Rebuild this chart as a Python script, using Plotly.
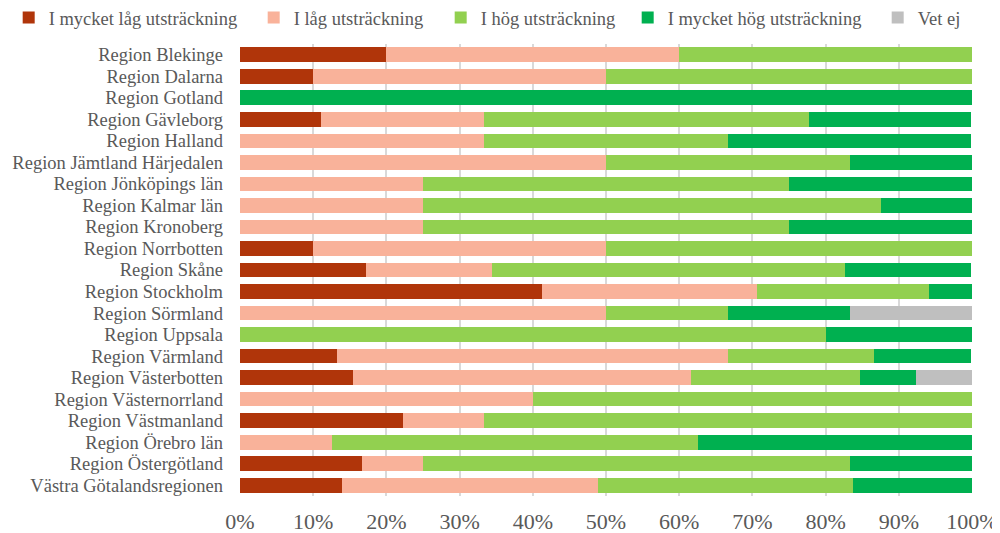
import plotly.graph_objects as go

regions = ["Region Blekinge", "Region Dalarna", "Region Gotland", "Region Gävleborg", "Region Halland",
           "Region Jämtland Härjedalen", "Region Jönköpings län", "Region Kalmar län", "Region Kronoberg",
           "Region Norrbotten", "Region Skåne", "Region Stockholm", "Region Sörmland", "Region Uppsala",
           "Region Värmland", "Region Västerbotten", "Region Västernorrland", "Region Västmanland",
           "Region Örebro län", "Region Östergötland", "Västra Götalandsregionen"]

series_names = ["I mycket låg utsträckning", "I låg utsträckning", "I hög utsträckning",
                "I mycket hög utsträckning", "Vet ej"]

mycket_lag = [20.0, 10.0, 0, 11.1, 0, 0, 0, 0, 0, 10.0, 17.2, 41.2, 0, 0, 13.3, 15.4, 0, 22.2, 0, 16.7, 14.0]
lag = [40.0, 40.0, 0, 22.2, 33.3, 50.0, 25.0, 25.0, 25.0, 40.0, 17.2, 29.4, 50.0, 0, 53.3, 46.2, 40.0, 11.1, 12.5, 8.3, 34.9]
hog = [40.0, 50.0, 0, 44.4, 33.3, 33.3, 50.0, 62.5, 50.0, 50.0, 48.3, 23.5, 16.7, 80.0, 20.0, 23.1, 60.0, 66.7, 50.0, 58.3, 34.9]
mycket_hog = [0, 0, 100.0, 22.2, 33.3, 16.7, 25.0, 12.5, 25.0, 0, 17.2, 5.9, 16.7, 20.0, 13.3, 7.7, 0, 0, 37.5, 16.7, 16.3]
vet_ej = [0, 0, 0, 0, 0, 0, 0, 0, 0, 0, 0, 0, 16.7, 0, 0, 7.7, 0, 0, 0, 0, 0]

colors = ["#B0350A", "#F9B29A", "#92D050", "#00B050", "#BFBFBF"]
legend_widths = [200, 142, 142, 205, 48]
values = [mycket_lag, lag, hog, mycket_hog, vet_ej]

fig = go.Figure()
for name, vals, col, lw in zip(series_names, values, colors, legend_widths):
    fig.add_trace(go.Bar(y=regions, x=[v / 100 for v in vals], name=name, orientation="h",
                         legendwidth=lw,
                         marker=dict(color=col, line=dict(width=0))))

font_family = "Liberation Serif, Times New Roman, serif"
fig.update_layout(
    barmode="stack",
    bargap=0.32,
    width=1000, height=533,
    margin=dict(l=232, r=36, t=36, b=45, autoexpand=False),
    plot_bgcolor="white", paper_bgcolor="white",
    font=dict(family=font_family, color="#595959", size=18),
    legend=dict(orientation="h", x=-0.316, xanchor="left",
                y=1.0575, yanchor="middle", borderwidth=0,
                font=dict(size=18.5, color="#595959"), itemwidth=30, traceorder="normal"),
    showlegend=True,
)
fig.update_xaxes(range=[0, 1], tickformat=".0%", dtick=0.1, showgrid=True, gridcolor="#D9D9D9",
                 gridwidth=1.5, zeroline=False, showline=False, tickfont=dict(size=22), ticks="",
                 ticklabelstandoff=10, fixedrange=True, automargin=False)
fig.update_yaxes(autorange="reversed", tickmode="array", tickvals=regions, ticktext=regions,
                 tickfont=dict(size=18.5), ticks="", showline=False,
                 ticklabelstandoff=16, fixedrange=True, automargin=False)

fig.write_html("out.html")
